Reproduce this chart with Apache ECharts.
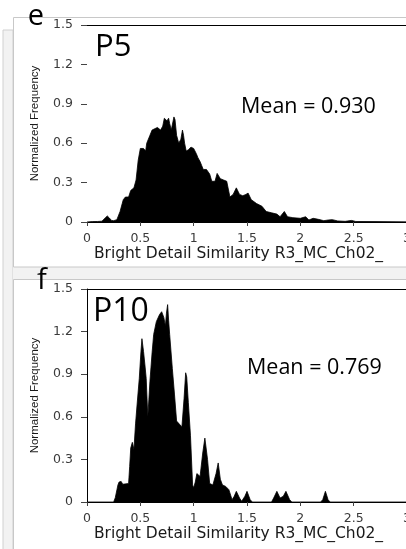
<!DOCTYPE html>
<html>
<head>
<meta charset="utf-8">
<script src="https://cdn.jsdelivr.net/npm/echarts@6/dist/echarts.min.js"></script>
<style>
  html, body { margin: 0; padding: 0; background: #ffffff; }
  #chart { width: 406px; height: 549px; }
</style>
</head>
<body>
<div id="chart"></div>
<script>
// Histogram of bright detail similarity, passage P5 (bin centre, normalized frequency)
const binsP5 = [0, 0.05, 0.10, 0.14, 0.17, 0.19, 0.21, 0.23, 0.25, 0.28, 0.31, 0.33, 0.34, 0.36, 0.37, 0.39,
  0.41, 0.44, 0.46, 0.48, 0.50, 0.515, 0.53, 0.55, 0.56, 0.59, 0.61, 0.625, 0.66, 0.69, 0.71, 0.725,
  0.735, 0.75, 0.765, 0.775, 0.79, 0.80, 0.815, 0.825, 0.84, 0.86, 0.88, 0.895, 0.905, 0.915, 0.93,
  0.95, 0.975, 1.0, 1.025, 1.04, 1.06, 1.075, 1.09, 1.12, 1.15, 1.17, 1.20, 1.22, 1.25, 1.28, 1.31,
  1.34, 1.37, 1.40, 1.43, 1.46, 1.49, 1.51, 1.54, 1.59, 1.64, 1.68, 1.73, 1.78, 1.81, 1.85, 1.88,
  1.93, 2.0, 2.05, 2.08, 2.12, 2.17, 2.22, 2.26, 2.30, 2.35, 2.42, 2.48, 2.52, 2.7, 3.0];
const freqP5 = [0, 0.003, 0.004, 0.006, 0.03, 0.046, 0.03, 0.012, 0.01, 0.018, 0.08, 0.14, 0.17, 0.19, 0.18, 0.19,
  0.24, 0.26, 0.32, 0.47, 0.56, 0.57, 0.56, 0.54, 0.60, 0.66, 0.70, 0.71, 0.72, 0.70, 0.73, 0.79,
  0.80, 0.77, 0.79, 0.75, 0.70, 0.69, 0.80, 0.78, 0.66, 0.60, 0.63, 0.70, 0.66, 0.60, 0.54,
  0.55, 0.57, 0.56, 0.52, 0.49, 0.46, 0.43, 0.40, 0.40, 0.365, 0.31, 0.31, 0.37, 0.33, 0.32, 0.31,
  0.19, 0.21, 0.26, 0.21, 0.20, 0.21, 0.22, 0.17, 0.14, 0.12, 0.08, 0.07, 0.06, 0.04, 0.08, 0.04,
  0.033, 0.028, 0.04, 0.015, 0.028, 0.02, 0.01, 0.015, 0.018, 0.008, 0.005, 0.012, 0.004, 0.003, 0.002];

// Histogram of bright detail similarity, passage P10
const binsP10 = [0, 0.25, 0.265, 0.29, 0.30, 0.32, 0.335, 0.34, 0.39, 0.40, 0.41, 0.425, 0.44, 0.455, 0.47,
  0.49, 0.505, 0.515, 0.53, 0.545, 0.555, 0.57, 0.58, 0.59, 0.61, 0.625, 0.65, 0.68, 0.70, 0.72,
  0.735, 0.745, 0.756, 0.765, 0.775, 0.80, 0.82, 0.84, 0.87, 0.89, 0.91, 0.925, 0.935, 0.95, 0.97,
  0.99, 1.0, 1.015, 1.03, 1.045, 1.06, 1.085, 1.105, 1.13, 1.15, 1.18, 1.21, 1.23, 1.25, 1.27, 1.30,
  1.33, 1.36, 1.38, 1.40, 1.43, 1.45, 1.48, 1.50, 1.53, 1.55, 1.73, 1.75, 1.78, 1.81, 1.84, 1.865,
  1.90, 1.92, 2.19, 2.21, 2.235, 2.26, 2.28, 3.0];
const freqP10 = [0, 0, 0.03, 0.12, 0.14, 0.145, 0.125, 0.13, 0.13, 0.25, 0.38, 0.42, 0.37, 0.55, 0.69,
  0.87, 1.05, 1.15, 1.06, 0.95, 0.87, 0.60, 0.72, 0.85, 1.05, 1.18, 1.27, 1.32, 1.34, 1.30,
  1.24, 1.33, 1.39, 1.28, 1.18, 0.94, 0.76, 0.57, 0.545, 0.53, 0.73, 0.91, 0.88, 0.70, 0.47,
  0.12, 0.10, 0.14, 0.20, 0.19, 0.18, 0.345, 0.45, 0.30, 0.13, 0.12, 0.20, 0.275, 0.16, 0.12, 0.11,
  0.087, 0.016, 0.04, 0.075, 0.028, 0.005, 0.04, 0.075, 0.016, 0, 0, 0.028, 0.075, 0.028, 0.04, 0.075,
  0.016, 0, 0, 0.016, 0.075, 0.016, 0, 0];

const panelLetters = ['e', 'f'];
const passageNames = ['P5', 'P10'];
const meanValues = ['0.930', '0.769'];
const xTitle = 'Bright Detail Similarity R3_MC_Ch02_';
const yTitle = 'Normalized Frequency';

const chart = echarts.init(document.getElementById('chart'), null, { renderer: 'canvas' });

const tickFont = { fontFamily: 'DejaVu Sans', fontSize: 12.5, color: '#3a3a3a' };

function valueAxisX(gridIndex) {
  return {
    type: 'value', gridIndex: gridIndex, min: 0, max: 3, interval: 0.5,
    position: 'bottom',
    axisLine: { show: true, onZero: false, lineStyle: { color: '#000', width: 1 } },
    axisTick: { show: true, length: 4, lineStyle: { color: '#444' } },
    axisLabel: Object.assign({ margin: 10 }, tickFont),
    splitLine: { show: false },
    name: xTitle, nameLocation: 'middle', nameGap: 24,
    nameTextStyle: { fontFamily: 'DejaVu Sans', fontSize: 15.5, color: '#1a1a1a', padding: [0, 17, 0, 0] }
  };
}
// plain rule along the top edge of each plot
function topBorderAxis(gridIndex) {
  return {
    type: 'value', gridIndex: gridIndex, min: 0, max: 3, position: 'top',
    axisLine: { show: true, onZero: false, lineStyle: { color: '#000', width: 1 } },
    axisTick: { show: false }, axisLabel: { show: false }, splitLine: { show: false }
  };
}
function valueAxisY(gridIndex, showLine) {
  return {
    type: 'value', gridIndex: gridIndex, min: 0, max: 1.5, interval: 0.3,
    axisLine: { show: showLine, onZero: false, lineStyle: { color: '#000', width: 1 } },
    axisTick: { show: true, length: 6, lineStyle: { color: '#444' } },
    axisLabel: Object.assign({ margin: 14 }, tickFont),
    splitLine: { show: false },
    name: yTitle, nameLocation: 'middle', nameRotate: 90, nameGap: 46,
    nameTextStyle: { fontFamily: 'Liberation Sans', fontSize: 11.5, color: '#1a1a1a' }
  };
}
function histSeries(xi, yi, bins, freq) {
  return {
    type: 'line', xAxisIndex: xi, yAxisIndex: yi,
    data: bins.map((b, i) => [b, freq[i]]),
    showSymbol: false, symbol: 'none', smooth: false,
    lineStyle: { color: '#000', width: 0.8 },
    areaStyle: { color: '#000', opacity: 1 },
    silent: true, animation: false
  };
}

const labelFont = 'Open Sans';

chart.setOption({
  animation: false,
  backgroundColor: '#ffffff',
  grid: [
    { left: 87, top: 25, width: 320, height: 197, outerBoundsMode: 'none', containLabel: false },
    { left: 87, top: 289, width: 320, height: 213, outerBoundsMode: 'none', containLabel: false }
  ],
  xAxis: [valueAxisX(0), topBorderAxis(0), valueAxisX(1), topBorderAxis(1)],
  yAxis: [valueAxisY(0, false), valueAxisY(1, true)],
  series: [histSeries(0, 0, binsP5, freqP5), histSeries(2, 1, binsP10, freqP10)],
  graphic: [
    // page margin strip and panel frames
    { type: 'rect', shape: { x: 3, y: 30, width: 10, height: 530 }, style: { fill: '#f2f2f2', stroke: '#d0d0d0', lineWidth: 1 }, z: -10 },
    { type: 'rect', shape: { x: 13, y: 267, width: 400, height: 12 }, style: { fill: '#f2f2f2' }, z: -10 },
    { type: 'rect', shape: { x: 13.5, y: 17.5, width: 400, height: 249.5 }, style: { fill: '#ffffff', stroke: '#c8c8c8', lineWidth: 1 }, z: -9 },
    { type: 'rect', shape: { x: 13.5, y: 279.5, width: 400, height: 280 }, style: { fill: '#ffffff', stroke: '#c8c8c8', lineWidth: 1 }, z: -9 },
    // panel letters
    { type: 'text', x: 36, y: 17, style: { text: panelLetters[0], font: '29px "' + labelFont + '"', fill: '#000', textAlign: 'center', textVerticalAlign: 'middle' }, z: 10 },
    { type: 'text', x: 42, y: 281, style: { text: panelLetters[1], font: '29px "' + labelFont + '"', fill: '#000', textAlign: 'center', textVerticalAlign: 'middle' }, z: 10 },
    // passage names
    { type: 'text', x: 95, y: 47, style: { text: passageNames[0], font: '31px "' + labelFont + '"', fill: '#000', textAlign: 'left', textVerticalAlign: 'middle' }, z: 10 },
    { type: 'text', x: 93, y: 312, style: { text: passageNames[1], font: '32px "' + labelFont + '"', fill: '#000', textAlign: 'left', textVerticalAlign: 'middle' }, z: 10 },
    // mean annotations
    { type: 'text', x: 241, y: 107, style: { text: 'Mean = ' + meanValues[0], font: '21.5px "' + labelFont + '"', fill: '#000', textAlign: 'left', textVerticalAlign: 'middle' }, z: 10 },
    { type: 'text', x: 247, y: 368, style: { text: 'Mean = ' + meanValues[1], font: '21.5px "' + labelFont + '"', fill: '#000', textAlign: 'left', textVerticalAlign: 'middle' }, z: 10 }
  ]
});
</script>
</body>
</html>
